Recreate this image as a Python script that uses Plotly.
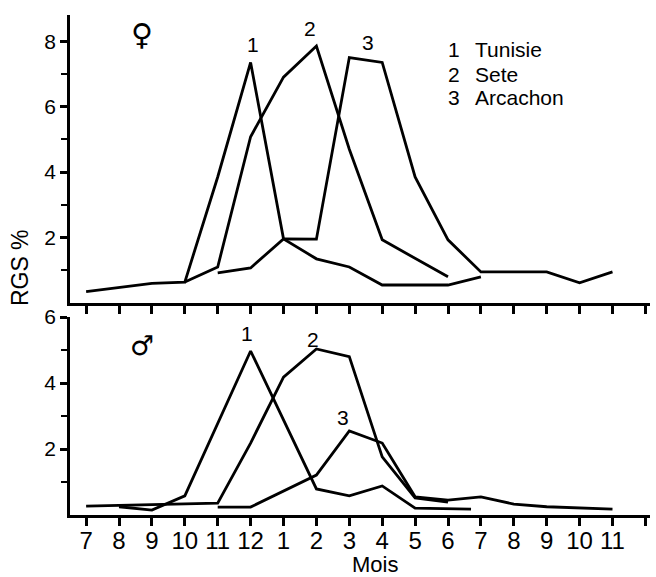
import plotly.graph_objects as go
from plotly.subplots import make_subplots

# Month positions: 0..16 -> 7,8,9,10,11,12,1,2,...,11 ; 17 is an unlabeled extra tick
tick_vals = list(range(18))
tick_labels = ["7", "8", "9", "10", "11", "12", "1", "2", "3", "4", "5", "6",
               "7", "8", "9", "10", "11", ""]

# Female (♀) RGS %
tunisie_f_x = [0, 2, 3, 4, 5, 6, 7, 8, 9, 11, 12]
tunisie_f_y = [0.35, 0.6, 0.64, 3.85, 7.35, 1.96, 1.35, 1.1, 0.55, 0.55, 0.8]
sete_f_x = [3, 4, 5, 6, 7, 8, 9, 11]
sete_f_y = [0.64, 1.1, 5.08, 6.9, 7.85, 4.7, 1.93, 0.8]
arcachon_f_x = [4, 5, 6, 7, 8, 9, 10, 11, 12, 13, 14, 15, 16]
arcachon_f_y = [0.92, 1.07, 1.96, 1.95, 7.5, 7.35, 3.85, 1.93, 0.95, 0.95, 0.95, 0.62, 0.95]

# Male (♂) RGS %
tunisie_m_x = [1, 2, 3, 5, 7, 8, 9, 10, 11.7]
tunisie_m_y = [0.25, 0.15, 0.58, 4.97, 0.79, 0.58, 0.88, 0.21, 0.18]
sete_m_x = [0, 4, 5, 6, 7, 8, 9, 10, 11]
sete_m_y = [0.27, 0.36, 2.18, 4.18, 5.03, 4.8, 1.76, 0.52, 0.39]
arcachon_m_x = [4, 5, 7, 8, 9, 10, 11, 12, 13, 14, 16]
arcachon_m_y = [0.24, 0.24, 1.21, 2.55, 2.18, 0.55, 0.45, 0.55, 0.33, 0.25, 0.18]

fig = make_subplots(rows=2, cols=1, shared_xaxes=False, vertical_spacing=0.03)
fig.update_layout(
    xaxis=dict(domain=[0, 1]), xaxis2=dict(domain=[0, 1]),
    yaxis=dict(domain=[0.424, 1.0]), yaxis2=dict(domain=[0.0, 0.396]),
)

line_style = dict(color="black", width=2.8)
for xs, ys, row in [(tunisie_f_x, tunisie_f_y, 1), (sete_f_x, sete_f_y, 1),
                    (arcachon_f_x, arcachon_f_y, 1),
                    (tunisie_m_x, tunisie_m_y, 2), (sete_m_x, sete_m_y, 2),
                    (arcachon_m_x, arcachon_m_y, 2)]:
    fig.add_trace(go.Scatter(x=xs, y=ys, mode="lines", line=line_style,
                             showlegend=False, hoverinfo="skip"), row=row, col=1)

FONT = "Liberation Sans"
NARROW = "Liberation Sans Narrow, Liberation Sans"
xcommon = dict(range=[-0.49, 17.14], tickvals=tick_vals, showline=True,
               linecolor="black", linewidth=2.8, ticks="outside", ticklen=8,
               tickwidth=2.6, tickcolor="black", showgrid=False, zeroline=False,
               automargin=False)
fig.update_xaxes(**xcommon, showticklabels=False, row=1, col=1)
fig.update_xaxes(**xcommon, ticktext=tick_labels, showticklabels=True,
                 ticklabelstandoff=-6,
                 tickfont=dict(family=NARROW, size=24, color="black"), row=2, col=1)

ycommon = dict(showline=True, linecolor="black", linewidth=2.8, ticks="outside",
               ticklen=7, tickwidth=2.6, tickcolor="black", showgrid=False,
               zeroline=False, automargin=False,
               tickfont=dict(family=FONT, size=21, color="black"))
fig.update_yaxes(**ycommon, range=[0, 8.8], tickvals=[2, 4, 6, 8],
                 minor=dict(tickvals=[1, 3, 5, 7], ticks="outside", ticklen=6,
                            tickwidth=2.2, tickcolor="black"), row=1, col=1)
fig.update_yaxes(**ycommon, range=[0, 6.0], tickvals=[2, 4, 6],
                 minor=dict(tickvals=[1, 3, 5], ticks="outside", ticklen=6,
                            tickwidth=2.2, tickcolor="black"), row=2, col=1)

ann = []
def label(text, x, y, xref, yref, size=21, family=FONT, xanchor="center", **kw):
    ann.append(dict(text=text, x=x, y=y, xref=xref, yref=yref, showarrow=False,
                    xanchor=xanchor, yanchor="middle",
                    font=dict(family=family, size=size, color="black"), **kw))

# top panel labels
label("1", 5.08, 7.9, "x", "y")
label("2", 6.8, 8.4, "x", "y")
label("3", 8.57, 7.95, "x", "y")
label("♀", 1.7, 8.2, "x", "y", size=30, family="DejaVu Sans")
# key (numbers and names)
for num, name, yy in [("1", "Tunisie", 7.74), ("2", "Sete", 6.97), ("3", "Arcachon", 6.27)]:
    label(num, 11.18, yy, "x", "y", size=21)
    label(name, 11.75, yy, "x", "y", size=21, xanchor="left")
# bottom panel labels
label("1", 4.9, 5.5, "x2", "y2")
label("2", 6.9, 5.33, "x2", "y2")
label("3", 7.8, 2.94, "x2", "y2")
label("♂", 1.7, 5.15, "x2", "y2", size=27, family="DejaVu Sans")
# axis titles
label("Mois", 0.526, -0.098, "paper", "paper", size=22)
label("RGS %", -0.086, 0.494, "paper", "paper", size=23, textangle=-90)

fig.update_layout(
    annotations=ann, width=656, height=577,
    margin=dict(l=70, r=6, t=15, b=62),
    plot_bgcolor="white", paper_bgcolor="white", showlegend=False,
)
fig.write_html("out.html", config={"displayModeBar": False},
               post_script="document.body.style.margin='0';document.body.style.overflow='hidden';")
